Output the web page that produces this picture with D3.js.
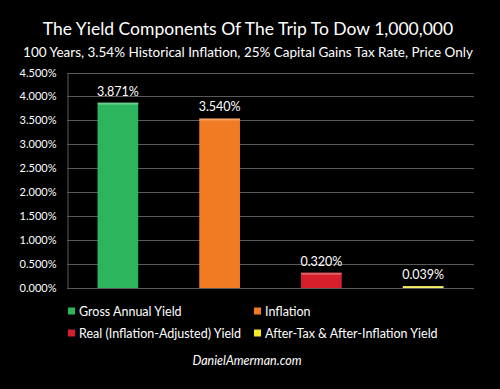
<!DOCTYPE html>
<html>
<head>
<meta charset="utf-8">
<script src="https://cdn.jsdelivr.net/npm/d3@7"></script>
<style>
  body { margin: 0; background: #000; }
  svg { display: block; font-family: Lato, "Open Sans", sans-serif; }
</style>
</head>
<body>
<svg id="chart" width="500" height="389"></svg>
<script>
// chart data
const categories = ["Gross Annual Yield", "Inflation", "Real (Inflation-Adjusted) Yield", "After-Tax & After-Inflation Yield"];
const values = [0.03871, 0.0354, 0.0032, 0.00039];
const colors = ["#2db55d", "#f07b23", "#d61f2b", "#f3e92b"];
const yTicks = [0, 0.005, 0.01, 0.015, 0.02, 0.025, 0.03, 0.035, 0.04, 0.045];

const svg = d3.select("#chart");
const plotLeft = 67, plotRight = 474, plotTop = 72.5, plotBottom = 288;

svg.append("rect").attr("width", 500).attr("height", 389).attr("fill", "#000");

// titles
svg.append("text")
  .attr("x", 248).attr("y", 35)
  .attr("text-anchor", "middle")
  .attr("fill", "#fff")
  .style("font-size", "17.5px")
  .text("The Yield Components Of The Trip To Dow 1,000,000");

svg.append("text")
  .attr("x", 248).attr("y", 57)
  .attr("text-anchor", "middle")
  .attr("fill", "#fff")
  .style("font-size", "13.5px")
  .text("100 Years, 3.54% Historical Inflation, 25% Capital Gains Tax Rate, Price Only");

const x = d3.scaleBand()
  .domain(categories)
  .range([plotLeft, plotRight])
  .paddingInner(0.6)
  .paddingOuter(0.3);

const y = d3.scaleLinear()
  .domain([0, 0.045])
  .range([plotBottom, plotTop]);

// grid lines
svg.append("g")
  .selectAll("line")
  .data(yTicks)
  .enter()
  .append("line")
    .attr("x1", plotLeft).attr("x2", plotRight)
    .attr("y1", d => Math.round(y(d)) + 0.5)
    .attr("y2", d => Math.round(y(d)) + 0.5)
    .attr("stroke", "#5a5a5a");

// y axis
const yAxis = svg.append("g")
  .attr("transform", "translate(" + (plotLeft + 0.5) + ",0)")
  .call(d3.axisLeft(y).tickValues(yTicks).tickFormat(d3.format(".3%")).tickSize(0).tickPadding(11));
yAxis.select(".domain").attr("stroke", "#5a5a5a");
yAxis.selectAll("text")
  .attr("fill", "#fff")
  .style("font-size", "11px")
  .style("font-family", "Lato, sans-serif");

// bars
const bars = svg.append("g")
  .selectAll("g")
  .data(categories)
  .enter()
  .append("g");

bars.append("rect")
  .attr("x", d => x(d))
  .attr("y", (d, i) => y(values[i]))
  .attr("width", x.bandwidth())
  .attr("height", (d, i) => plotBottom - y(values[i]))
  .attr("fill", (d, i) => colors[i]);

// bevel highlight on top
bars.append("rect")
  .attr("x", d => x(d))
  .attr("y", (d, i) => y(values[i]))
  .attr("width", x.bandwidth())
  .attr("height", (d, i) => Math.min(2, plotBottom - y(values[i])))
  .attr("fill", "#fff")
  .attr("opacity", 0.3);

bars.append("text")
  .attr("x", d => x(d) + x.bandwidth() / 2)
  .attr("y", (d, i) => y(values[i]) - 7)
  .attr("text-anchor", "middle")
  .attr("fill", "#fff")
  .style("font-size", "12.5px")
  .text((d, i) => d3.format(".3%")(values[i]));

// legend
const legendPos = [[68, 311], [254, 311], [68, 333], [254, 333]];
const legend = svg.append("g")
  .selectAll("g")
  .data(categories)
  .enter()
  .append("g")
    .attr("transform", (d, i) => "translate(" + legendPos[i][0] + "," + legendPos[i][1] + ")");

legend.append("rect")
  .attr("x", 0).attr("y", -3.5)
  .attr("width", 7).attr("height", 7)
  .attr("fill", (d, i) => colors[i]);

legend.append("text")
  .attr("x", 11).attr("y", 4.5)
  .attr("fill", "#fff")
  .style("font-size", "12.5px")
  .text(d => d);

svg.append("text")
  .attr("x", 247).attr("y", 365)
  .attr("text-anchor", "middle")
  .attr("fill", "#fff")
  .style("font-size", "12.5px")
  .style("font-style", "italic")
  .text("DanielAmerman.com");
</script>
</body>
</html>
